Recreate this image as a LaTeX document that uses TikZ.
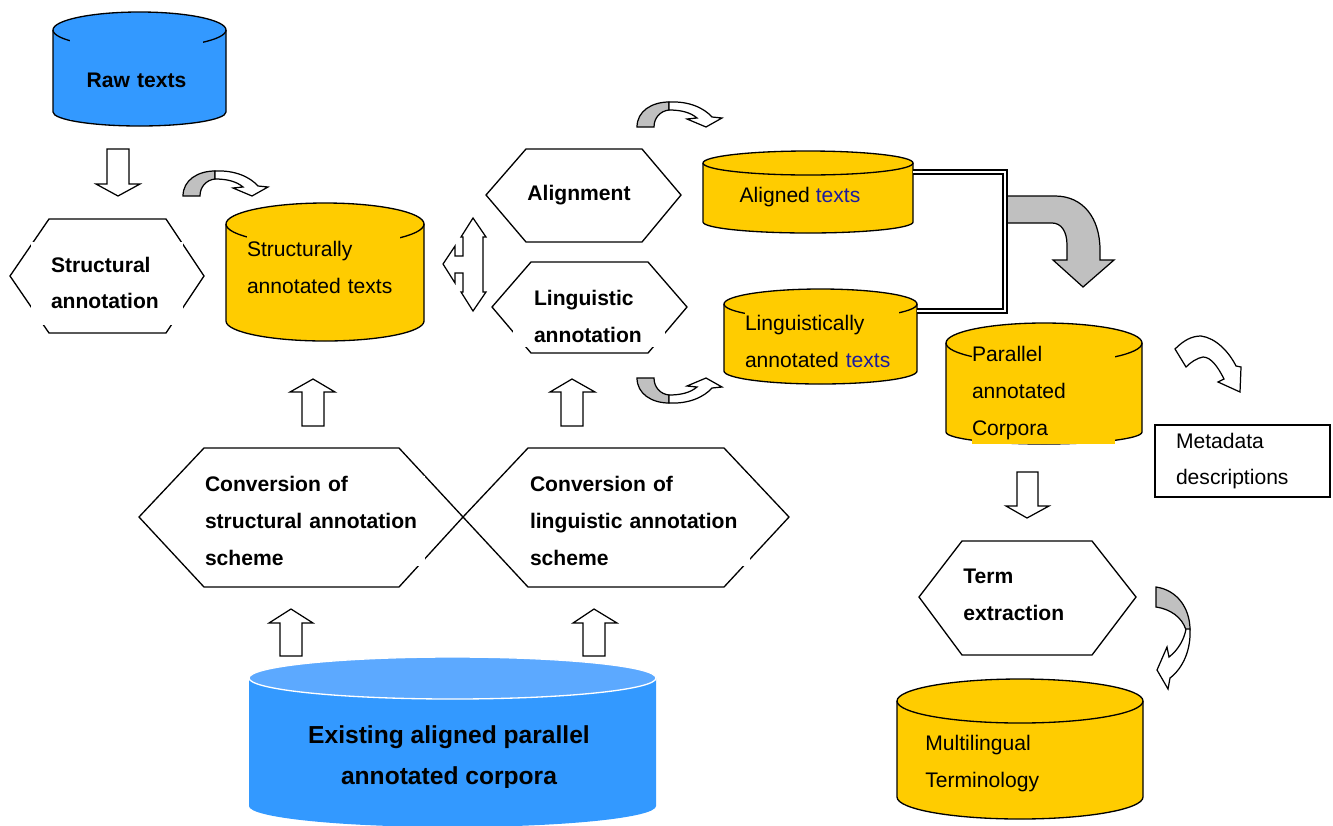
\documentclass[tikz,border=0pt]{standalone}
\usepackage{fontspec}
\setmainfont{Liberation Sans}
\definecolor{rawblue}{HTML}{3399FF}
\definecolor{lidblue}{HTML}{5CA9FF}
\definecolor{dbyellow}{HTML}{FFCC00}
\definecolor{bandgray}{HTML}{C0C0C0}
\definecolor{navytext}{HTML}{1C1C9E}
\tikzset{
    db/.style={draw,line width=0.75pt},
    hexa/.style={draw,line width=0.75pt,fill=white},
    hollow/.style={draw,line width=0.7pt,fill=white},
    band/.style={draw,line width=0.7pt,fill=bandgray},
    twin/.style={double,double distance=0.45mm,line width=0.28mm},
    lbl/.style={inner xsep=0pt,inner ysep=0pt,align=left,font=\fontsize{12}{21}\selectfont},
    bold lbl/.style={lbl,font=\fontsize{12}{21}\selectfont\bfseries},
    twist/.pic={
        \draw[band] (0,0) .. controls (0,-16) and (15,-25) .. (32,-25) -- (32,-17)
            .. controls (23,-16) and (17,-9) .. (17,0) -- cycle;
        \draw[hollow] (32,-25) .. controls (52,-26) and (67,-19) .. (75,-10) -- (85,-9)
            -- (69,0) -- (50,-8) -- (60,-9) .. controls (53,-15) and (43,-17) .. (32,-17) -- cycle;
    }
}

\begin{document}
\begin{tikzpicture}[x=0.2mm,y=-0.2mm]
    \useasboundingbox (0,0) rectangle (1333,825);

    % data stores
    \draw[db,fill=rawblue] (53,30) -- (53,112) arc[start angle=180,end angle=0,x radius=86.5,y radius=14]
        -- (226,30) arc[start angle=0,end angle=-180,x radius=86.5,y radius=18] -- cycle;
    \draw[db] (53,30) arc[start angle=180,end angle=0,x radius=86.5,y radius=18];

    \draw[db,fill=dbyellow] (226,224) -- (226,321) arc[start angle=180,end angle=0,x radius=99,y radius=20]
        -- (424,224) arc[start angle=0,end angle=-180,x radius=99,y radius=21] -- cycle;
    \draw[db] (226,224) arc[start angle=180,end angle=0,x radius=99,y radius=21];

    \draw[db,fill=dbyellow] (703,163) -- (703,222) arc[start angle=180,end angle=0,x radius=105,y radius=11]
        -- (913,163) arc[start angle=0,end angle=-180,x radius=105,y radius=12] -- cycle;
    \draw[db] (703,163) arc[start angle=180,end angle=0,x radius=105,y radius=12];

    \draw[db,fill=dbyellow] (724,304) -- (724,371) arc[start angle=180,end angle=0,x radius=96.5,y radius=13]
        -- (917,304) arc[start angle=0,end angle=-180,x radius=96.5,y radius=15] -- cycle;
    \draw[db] (724,304) arc[start angle=180,end angle=0,x radius=96.5,y radius=15];

    \draw[db,fill=dbyellow] (946,343) -- (946,432) arc[start angle=180,end angle=0,x radius=98,y radius=12]
        -- (1142,343) arc[start angle=0,end angle=-180,x radius=98,y radius=20] -- cycle;
    \draw[db] (946,343) arc[start angle=180,end angle=0,x radius=98,y radius=20];

    \draw[db,fill=dbyellow] (897,701) -- (897,797) arc[start angle=180,end angle=0,x radius=123,y radius=22]
        -- (1143,701) arc[start angle=0,end angle=-180,x radius=123,y radius=22] -- cycle;
    \draw[db] (897,701) arc[start angle=180,end angle=0,x radius=123,y radius=22];

    \fill[rawblue] (249,678) -- (249,806) arc[start angle=180,end angle=0,x radius=203.5,y radius=21]
        -- (656,678) -- cycle;
    \draw[white,fill=lidblue,line width=0.75pt] (452.5,678) ellipse[x radius=203.5,y radius=21];

    % process steps
    \draw[hexa] (10,276) -- (49,219) -- (166,219) -- (204,276) -- (166,333) -- (49,333) -- cycle;
    \draw[hexa] (486,195) -- (526,149) -- (642,149) -- (681,195) -- (642,242) -- (526,242) -- cycle;
    \draw[hexa] (492,307) -- (531,262) -- (648,262) -- (687,307) -- (648,353) -- (531,353) -- cycle;
    \draw[hexa] (139,517) -- (204,448) -- (399,448) -- (463,517) -- (399,587) -- (204,587) -- cycle;
    \draw[hexa] (463,517) -- (528,448) -- (724,448) -- (789,517) -- (724,587) -- (528,587) -- cycle;
    \draw[hexa] (919,597) -- (962,541) -- (1092,541) -- (1136,597) -- (1092,655) -- (962,655) -- cycle;

    % labels
    \node[bold lbl,align=center,fill=rawblue,text width=26.6mm,minimum height=16mm] (raw) at (136.5,80) {Raw texts};
    \node[lbl,fill=dbyellow,text width=30.6mm,minimum height=12.6mm] (structtxt) at (323.5,267.5) {Structurally\\annotated texts};
    \node[lbl] (aligned) at (800,197) {Aligned \textcolor{navytext}{texts}};
    \node[lbl,fill=dbyellow,text width=30.8mm,minimum height=12.2mm] (lingtxt) at (822,341.5) {Linguistically\\annotated \textcolor{navytext}{texts}};
    \node[lbl,fill=dbyellow,text width=28.6mm,minimum height=20.4mm] (parallel) at (1043.5,393) {Parallel\\annotated\\Corpora};
    \node[lbl,anchor=west] (multi) at (925,763.5) {Multilingual\\Terminology};
    \begin{scope}
        \clip (249,700) rectangle (656,787);
        \node[bold lbl,align=center,font=\fontsize{14}{23.5}\selectfont\bfseries] (existing) at (449,757.5) {Existing aligned parallel\\annotated corpora};
    \end{scope}

    \node[bold lbl,fill=white,inner xsep=4mm,text width=22.4mm,minimum height=16.6mm] (struct) at (107,283) {Structural\\annotation};
    \node[bold lbl] (align) at (579,195) {Alignment};
    \node[bold lbl,fill=white,inner xsep=4.2mm,text width=22mm,minimum height=12.2mm] (ling) at (589,316.5) {Linguistic\\annotation};
    \node[bold lbl,fill=white,text width=44mm,minimum height=18mm] (convS) at (315,521) {Conversion of\\structural annotation\\scheme};
    \node[bold lbl,fill=white,text width=44mm,minimum height=18mm] (convL) at (640,521) {Conversion of\\linguistic annotation\\scheme};
    \node[bold lbl,anchor=west] (term) at (963,595) {Term\\extraction};

    \node[lbl,draw,line width=0.7pt,inner xsep=4.2mm,text width=26.6mm,minimum height=14.4mm] (meta) at (1242.5,461) {Metadata\\descriptions};

    % block arrows
    \draw[hollow] (107,149) -- (129,149) -- (129,184) -- (140,184) -- (118,196) -- (96,184) -- (107,184) -- cycle;
    \draw[hollow] (302,426) -- (302,392) -- (290,392) -- (313,379) -- (335,392) -- (324,392) -- (324,426) -- cycle;
    \draw[hollow] (561,426) -- (561,392) -- (550,392) -- (572,379) -- (595,392) -- (583,392) -- (583,426) -- cycle;
    \draw[hollow] (280,656) -- (280,623) -- (269,623) -- (291,609) -- (313,623) -- (302,623) -- (302,656) -- cycle;
    \draw[hollow] (583,656) -- (583,623) -- (573,623) -- (594,609) -- (617,623) -- (605,623) -- (605,656) -- cycle;
    \draw[hollow] (1017,472) -- (1038,472) -- (1038,506) -- (1049,506) -- (1027,518) -- (1006,506) -- (1017,506) -- cycle;
    \draw[hollow] (473,218) -- (486,237) -- (483,237) -- (483,292) -- (486,292) -- (473,311) -- (461,292)
        -- (463,292) -- (463,273) -- (455,273) -- (455,283) -- (443,264) -- (455,246) -- (455,256)
        -- (463,256) -- (463,237) -- (461,237) -- cycle;

    % curved arrows
    \pic at (183,196) {twist};
    \pic at (637,127) {twist};
    \pic[yscale=-1] at (637,378) {twist};
    \draw[hollow] (1175,349) .. controls (1184,340) and (1192,336) .. (1201,336)
        .. controls (1216,338) and (1229,352) .. (1236,366) -- (1241,367) -- (1240,392) -- (1218,382)
        -- (1224,379) .. controls (1218,367) and (1211,357) .. (1203,357)
        .. controls (1197,358) and (1191,362) .. (1186,367) -- cycle;
    \draw[band] (1156,587) -- (1156,607) .. controls (1170,609) and (1182,617) .. (1186,630)
        -- (1190,630) .. controls (1190,608) and (1177,590) .. (1156,587) -- cycle;
    \draw[hollow] (1186,629) .. controls (1184,640) and (1178,650) .. (1169,657) -- (1167,647) -- (1157,670)
        -- (1168,689) -- (1170,678) .. controls (1183,668) and (1191,650) .. (1190,629) -- cycle;

    % merge of aligned and annotated texts
    \draw[band] (1006,196) -- (1055,196) .. controls (1083,196) and (1100,218) .. (1100,250) -- (1100,260)
        -- (1114,260) -- (1083,287) -- (1053,260) -- (1067,260) -- (1067,245)
        .. controls (1067,231) and (1061,223) .. (1052,223) -- (1006,223) -- cycle;
    \coordinate (alE) at (913,172);
    \coordinate (liE) at (917,311);
    \coordinate (joint) at (1005,240);
    \draw[twin] (alE) -- (alE -| joint) -- (liE -| joint) -- (liE);
\end{tikzpicture}
\end{document}
